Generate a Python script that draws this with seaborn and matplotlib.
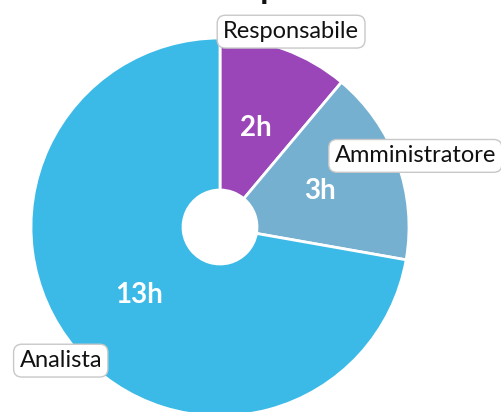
import matplotlib
matplotlib.use("Agg")
from matplotlib import pyplot as plt
import seaborn as sns

# hours per role
roles = ['Responsabile', 'Amministratore', 'Analista']
hours = [2, 3, 13]
colors = ['#9A46B8', '#76B0D1', '#3BBAE7']

sns.set_theme(style="white")
plt.rcParams['font.family'] = ['Lato', 'DejaVu Sans']

W, H = 501, 412
fig = plt.figure(figsize=(W / 100, H / 100), dpi=100)
ax = fig.add_axes([0, 0, 1, 1])

# pie geometry in pixel units (y measured from bottom)
cx, cy, r, hole = 220, H - 227, 189, 37

wedges, texts, autotexts = ax.pie(
    hours, labels=roles, colors=colors, startangle=90, counterclock=False,
    center=(cx, cy), radius=r, labeldistance=1.1, pctdistance=0.56,
    autopct=lambda p: '%dh' % round(p * sum(hours) / 100),
    wedgeprops=dict(width=r - hole, edgecolor='white', linewidth=2),
    frame=True)
ax.set_xlim(0, W)
ax.set_ylim(0, H)
ax.set_aspect('equal')
ax.axis('off')

for t in texts:
    t.set_ha('center')
    t.set_va('center')
    t.set_fontsize(17)
    t.set_color('#111111')
    t.set_bbox(dict(boxstyle='round,pad=0.25,rounding_size=0.35', fc='white',
                    ec='#c8c8c8', lw=1))
for t in autotexts:
    t.set_color('white')
    t.set_fontsize(20)
    t.set_fontweight('bold')

# title, cut by the top edge
ax.text(195, H + 1, 'Ore per ruolo', ha='left', va='baseline',
        fontsize=24, fontweight='bold', color='#111111', clip_on=False)

fig.savefig('out.png', dpi=100)
